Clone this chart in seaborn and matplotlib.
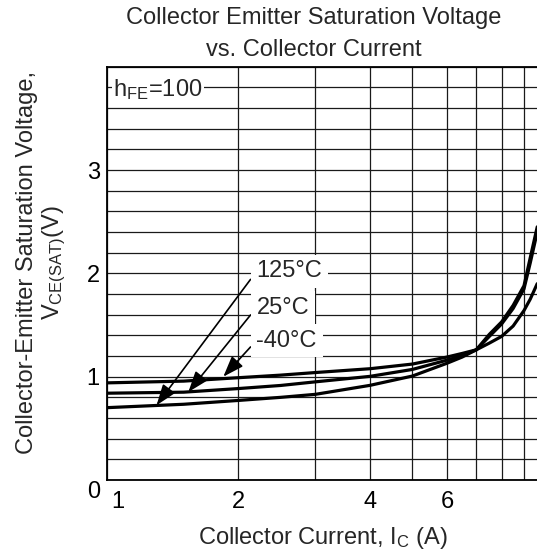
import numpy as np
import pandas as pd
import matplotlib
matplotlib.use("Agg")
import matplotlib.pyplot as plt
import matplotlib.transforms as mtransforms
import seaborn as sns

# values (hFE = 100)
ic_m40 = [1, 1.5, 2, 2.5, 3, 4, 5, 6, 6.5, 7, 7.5, 8, 8.5, 9, 9.3, 9.65]
vce_m40 = [0.94, 0.957, 0.99, 1.015, 1.04, 1.077, 1.122, 1.19, 1.225, 1.26, 1.325, 1.39, 1.49, 1.64, 1.75, 1.90]

ic_25 = [1, 1.5, 2, 2.5, 3, 4, 5, 6, 6.5, 7, 7.5, 8, 8.5, 9, 9.3, 9.65]
vce_25 = [0.84, 0.85, 0.885, 0.915, 0.95, 1.003, 1.07, 1.16, 1.205, 1.26, 1.39, 1.51, 1.66, 1.85, 2.10, 2.40]

ic_125 = [1, 1.5, 2, 2.5, 3, 4, 5, 6, 6.5, 7, 7.5, 8, 8.5, 9, 9.3, 9.65]
vce_125 = [0.70, 0.733, 0.77, 0.80, 0.829, 0.916, 1.006, 1.13, 1.19, 1.26, 1.41, 1.53, 1.69, 1.88, 2.15, 2.45]

temps = ["-40°C", "25°C", "125°C"]
x_ticks = [1, 2, 3, 4, 5, 6, 7, 8, 9]
x_labels = ["1", "2", "", "4", "", "6", "", "", ""]
y_ticks = np.round(np.arange(0, 4.01, 0.2), 1)
y_labels = [str(int(v)) if v in (0, 1, 2, 3) else "" for v in y_ticks]

df = pd.concat([
    pd.DataFrame({"Ic": ic_m40, "Vce": vce_m40, "Temp": temps[0]}),
    pd.DataFrame({"Ic": ic_25, "Vce": vce_25, "Temp": temps[1]}),
    pd.DataFrame({"Ic": ic_125, "Vce": vce_125, "Temp": temps[2]}),
])

sns.set_style("white")
plt.rcParams["font.family"] = ["Liberation Sans", "DejaVu Sans"]
plt.rcParams["mathtext.default"] = "regular"
FS = 17

fig = plt.figure(figsize=(5.37, 5.56), dpi=100)
# axes runs past the right edge like the cropped original
ax = fig.add_axes([106.7 / 537, 76 / 556, 437.3 / 537, 413.3 / 556])

sns.lineplot(data=df, x="Ic", y="Vce", hue="Temp", palette=["black"] * 3,
             lw=2.3, legend=False, ax=ax, sort=True)

ax.set_xscale("log")
ax.set_xlim(1, 10)
ax.set_ylim(0, 4)
ax.set_xticks(x_ticks)
ax.set_xticklabels(x_labels)
ax.xaxis.set_minor_locator(matplotlib.ticker.NullLocator())
ax.set_yticks(y_ticks)
ax.set_yticklabels(y_labels)
ax.tick_params(length=0, labelsize=FS, colors="black")
ax.tick_params(axis="x", pad=8)
ax.tick_params(axis="y", pad=5)
ax.grid(True, color="#1a1a1a", lw=0.9)
ax.set_xlabel("")
ax.set_ylabel("")
for s in ["left", "bottom", "top", "right"]:
    ax.spines[s].set_visible(True)
    ax.spines[s].set_color("black")
    ax.spines[s].set_linewidth(1.3)

# nudge the "1" and "0" tick labels as in the original
xl = ax.get_xticklabels()[0]
xl.set_transform(xl.get_transform() + mtransforms.ScaledTranslation(0.11, 0, fig.dpi_scale_trans))
yl = ax.get_yticklabels()[0]
yl.set_transform(yl.get_transform() + mtransforms.ScaledTranslation(0, -0.1, fig.dpi_scale_trans))

ax.text(1.034, 3.78, "h$_{FE}$=100", fontsize=FS, ha="left", va="center",
        bbox=dict(boxstyle="square,pad=0.05", fc="white", ec="none"))

arrow_tips = [(1.848, 1.0), (1.537, 0.851), (1.30, 0.723)]
label_pos = [(2.2, 1.35), (2.2, 1.668), (2.2, 2.018)]
for t, tip, pos in zip(temps, arrow_tips, label_pos):
    ax.annotate(t, xy=tip, xytext=pos, fontsize=FS, ha="left", va="center",
                bbox=dict(boxstyle="square,pad=0.25", fc="white", ec="none"),
                arrowprops=dict(arrowstyle="-|>,head_length=0.75,head_width=0.27",
                                color="black", lw=1.2, shrinkA=0, shrinkB=0,
                                relpos=(0, 0.5)))

fig.text(314 / 537, 1 - 34 / 556, "Collector Emitter Saturation Voltage\nvs. Collector Current",
         fontsize=FS, ha="center", va="center", linespacing=1.6)
fig.text(323 / 537, 1 - 538 / 556, "Collector Current, I$_C$ (A)", fontsize=FS,
         ha="center", va="center")
fig.text(42 / 537, 1 - 263 / 556, "Collector-Emitter Saturation Voltage,\nV$_{CE(SAT)}$(V)",
         fontsize=FS, rotation=90, ha="center", va="center", multialignment="center",
         linespacing=1.15)

fig.savefig("out.png", dpi=100)
